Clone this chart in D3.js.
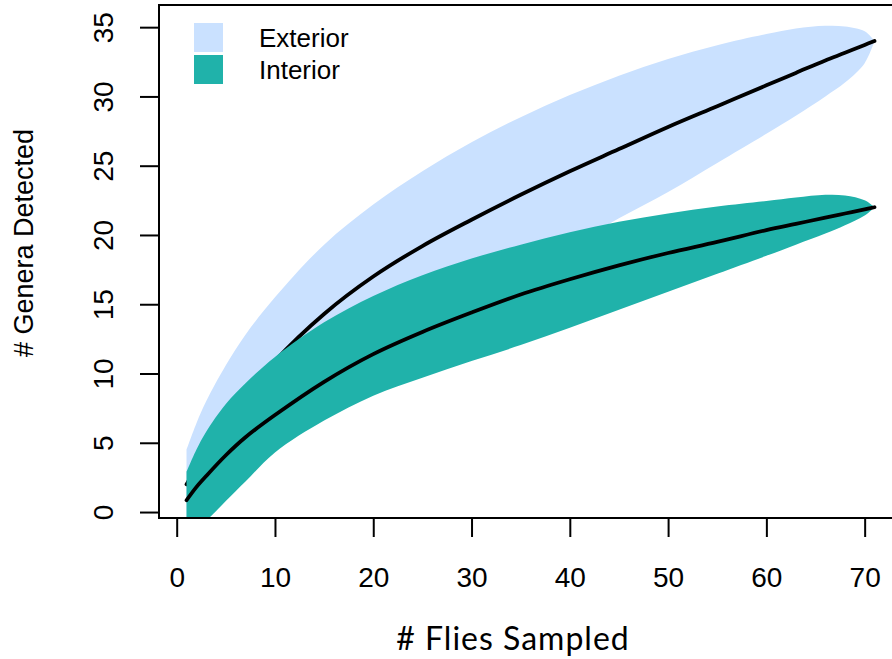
<!DOCTYPE html>
<html>
<head>
<meta charset="utf-8">
<script src="https://cdn.jsdelivr.net/npm/d3@7"></script>
<style>
  body { margin: 0; background: #fff; }
  svg { display: block; }
</style>
</head>
<body>
<div id="container"></div>
<script>
// flies sampled
const flies = [1, 2, 3, 5, 7, 10, 15, 20, 25, 30, 35, 40, 45, 50, 55, 60, 63, 66, 68, 70, 71];

// exterior: mean curve and band
const extMean = [2.0, 3.2, 4.3, 6.4, 8.3, 10.9, 14.3, 17.0, 19.2, 21.1, 22.9, 24.6, 26.2, 27.8, 29.3, 30.8, 31.7, 32.6, 33.15, 33.72, 34.0];
const extHigh = [4.5, 6.4, 8.0, 10.6, 12.8, 15.5, 19.3, 22.2, 24.6, 26.7, 28.5, 30.1, 31.5, 32.7, 33.7, 34.5, 34.9, 35.1, 35.05, 34.7, 34.0];
const extLow = [-0.6, 0.1, 1.1, 3.0, 4.3, 6.0, 9.2, 11.8, 14.0, 15.8, 17.4, 19.2, 21.2, 23.1, 25.2, 27.3, 28.6, 30.0, 31.0, 32.4, 34.0];

// interior: mean curve and band
const intMean = [0.85, 1.8, 2.6, 4.1, 5.4, 7.0, 9.4, 11.4, 13.0, 14.4, 15.7, 16.8, 17.8, 18.7, 19.5, 20.35, 20.8, 21.25, 21.55, 21.85, 22.0];
const intHigh = [2.9, 4.5, 5.8, 7.8, 9.3, 11.2, 13.7, 15.6, 17.1, 18.3, 19.3, 20.2, 20.95, 21.55, 22.05, 22.45, 22.7, 22.9, 22.85, 22.5, 22.0];
const intLow = [-1.6, -1.0, -0.6, 0.8, 2.2, 4.3, 6.6, 8.4, 9.7, 10.9, 12.05, 13.3, 14.6, 15.9, 17.2, 18.5, 19.3, 20.1, 20.7, 21.4, 22.0];

const xTicks = [0, 10, 20, 30, 40, 50, 60, 70];
const yTicks = [0, 5, 10, 15, 20, 25, 30, 35];
const groups = ["Exterior", "Interior"];
const colors = ["#cae1ff", "#20b2aa"];

const width = 892;
const height = 659;
const boxLeft = 159, boxTop = 5, boxBottom = 518, boxRight = 902;

const svg = d3.create("svg")
    .attr("width", width)
    .attr("height", height);

const x = d3.scaleLinear().domain([-1.8, 73.8]).range([boxLeft, boxRight]);
const y = d3.scaleLinear().domain([-0.43, 36.6]).range([boxBottom, boxTop]);

svg.append("clipPath")
    .attr("id", "plotclip")
    .append("rect")
    .attr("x", boxLeft).attr("y", boxTop)
    .attr("width", boxRight - boxLeft).attr("height", boxBottom - boxTop);

const plot = svg.append("g").attr("clip-path", "url(#plotclip)");

const curve = d3.curveCatmullRom.alpha(0.5);

const area = (lo, hi) => d3.area()
    .x((d, i) => x(flies[i]))
    .y0((d, i) => y(lo[i]))
    .y1((d, i) => y(hi[i]))
    .curve(curve)(flies);

const line = vals => d3.line()
    .x((d, i) => x(flies[i]))
    .y((d, i) => y(vals[i]))
    .curve(curve)(flies);

const series = [
    { lo: extLow, hi: extHigh, mean: extMean },
    { lo: intLow, hi: intHigh, mean: intMean }
];

series.forEach((s, k) => {
    plot.append("path")
        .attr("d", area(s.lo, s.hi))
        .attr("fill", colors[k]);
    plot.append("path")
        .attr("d", line(s.mean))
        .attr("fill", "none")
        .attr("stroke", "#000")
        .attr("stroke-width", 3.8)
        .attr("stroke-linecap", "round");
});

// box
svg.append("rect")
    .attr("x", boxLeft).attr("y", boxTop)
    .attr("width", boxRight - boxLeft).attr("height", boxBottom - boxTop)
    .attr("fill", "none")
    .attr("stroke", "#000")
    .attr("stroke-width", 2);

const tickFont = "'Liberation Sans', Arial, Helvetica, sans-serif";

// x axis
const gx = svg.append("g")
    .attr("transform", `translate(0,${boxBottom})`)
    .call(d3.axisBottom(x).tickValues(xTicks).tickSize(19).tickFormat(d3.format("d")));
gx.select(".domain").remove();
gx.selectAll("line").attr("stroke", "#000").attr("stroke-width", 2);
gx.selectAll("text")
    .attr("y", 69)
    .attr("dy", null)
    .attr("fill", "#000")
    .style("font-family", tickFont)
    .style("font-size", "28px");

// y axis
const gy = svg.append("g")
    .attr("transform", `translate(${boxLeft},0)`)
    .call(d3.axisLeft(y).tickValues(yTicks).tickSize(19).tickFormat(d3.format("d")));
gy.select(".domain").remove();
gy.selectAll("line").attr("stroke", "#000").attr("stroke-width", 2);
gy.selectAll("text")
    .attr("x", 0)
    .attr("y", -46)
    .attr("dy", null)
    .attr("transform", "rotate(-90)")
    .attr("text-anchor", "middle")
    .attr("fill", "#000")
    .style("font-family", tickFont)
    .style("font-size", "28px");

// axis titles
svg.append("text")
    .attr("transform", "translate(33,243) rotate(-90)")
    .attr("text-anchor", "middle")
    .style("font-family", tickFont)
    .style("font-size", "27px")
    .text("# Genera Detected");

svg.append("text")
    .attr("x", 513)
    .attr("y", 650)
    .attr("text-anchor", "middle")
    .style("font-family", "Lato, 'Open Sans', sans-serif")
    .style("font-size", "32px")
    .style("letter-spacing", "1px")
    .text("# Flies Sampled");

// legend
const legend = svg.append("g");
groups.forEach((g, i) => {
    legend.append("rect")
        .attr("x", 194).attr("y", 23 + i * 32)
        .attr("width", 29).attr("height", 29)
        .attr("fill", colors[i]);
    legend.append("text")
        .attr("x", 259).attr("y", 47 + i * 32)
        .style("font-family", tickFont)
        .style("font-size", "26px")
        .text(g);
});

d3.select("#container").append(() => svg.node());
</script>
</body>
</html>
